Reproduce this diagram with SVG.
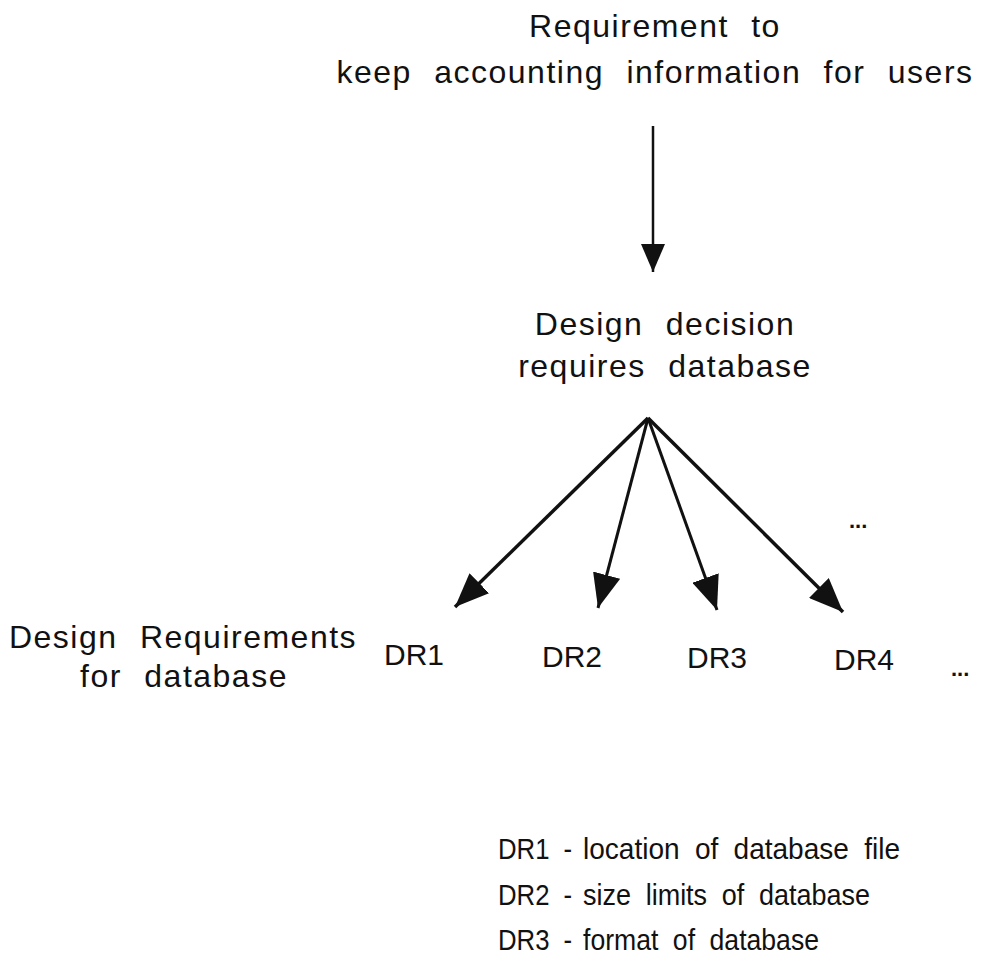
<svg xmlns="http://www.w3.org/2000/svg" width="983" height="962" viewBox="0 0 983 962">
  <style>
    .t { font-family: "Liberation Sans", Arial, sans-serif; font-size: 32px; fill: #111; letter-spacing: 1.5px; word-spacing: 12px; }
    .c { text-anchor: middle; }
    .dr { font-family: "Liberation Sans", Arial, sans-serif; font-size: 30px; fill: #111; }
    .lg { font-family: "Liberation Sans", Arial, sans-serif; font-size: 30px; fill: #111; word-spacing: 8px; }
    .dots { font-family: "Liberation Sans", Arial, sans-serif; font-size: 22px; font-weight: bold; fill: #111; }
    .edge { stroke: #111; fill: none; }
  </style>
  <defs>
    <marker id="head" markerUnits="userSpaceOnUse" markerWidth="36" markerHeight="28" viewBox="0 0 36 28" refX="34" refY="14" orient="auto">
      <path d="M0,0 L34,14 L0,28 Z" fill="#111"/>
    </marker>
    <marker id="headThin" markerUnits="userSpaceOnUse" markerWidth="30" markerHeight="24" viewBox="0 0 30 24" refX="28" refY="12" orient="auto">
      <path d="M0,0 L28,12 L0,24 Z" fill="#111"/>
    </marker>
  </defs>
  <rect width="983" height="962" fill="#fff"/>

  <g id="requirement">
    <text class="t c" x="655" y="37">Requirement to</text>
    <text class="t c" x="655" y="83">keep accounting information for users</text>
  </g>

  <g id="decision">
    <text class="t c" x="665" y="335">Design decision</text>
    <text class="t c" x="665" y="377">requires database</text>
  </g>

  <g id="design-requirements">
    <text class="t c" x="183" y="648">Design Requirements</text>
    <text class="t c" x="184" y="687">for database</text>
  </g>

  <g id="dr1"><text class="dr" x="384" y="665">DR1</text></g>
  <g id="dr2"><text class="dr" x="542" y="667">DR2</text></g>
  <g id="dr3"><text class="dr" x="687" y="668">DR3</text></g>
  <g id="dr4"><text class="dr" x="834" y="670">DR4</text></g>

  <g id="more">
    <text class="dots" x="849" y="528">...</text>
    <text class="dots" x="951" y="676">...</text>
  </g>

  <!-- key: label prefix and description set as two runs so the descriptions line up -->
  <g id="legend">
    <text class="lg" x="498" y="859" textLength="74" lengthAdjust="spacingAndGlyphs">DR1 -</text>
    <text class="lg" x="583" y="859" textLength="317" lengthAdjust="spacingAndGlyphs">location of database file</text>
    <text class="lg" x="498" y="905" textLength="74" lengthAdjust="spacingAndGlyphs">DR2 -</text>
    <text class="lg" x="583" y="905" textLength="287" lengthAdjust="spacingAndGlyphs">size limits of database</text>
    <text class="lg" x="498" y="950" textLength="74" lengthAdjust="spacingAndGlyphs">DR3 -</text>
    <text class="lg" x="583" y="950" textLength="236" lengthAdjust="spacingAndGlyphs">format of database</text>
  </g>

  <g id="connectors">
    <line class="edge" x1="653" y1="126" x2="653" y2="272" stroke-width="2.5" marker-end="url(#headThin)"/>
    <line class="edge" x1="648" y1="418" x2="455" y2="607" stroke-width="3.5" marker-end="url(#head)"/>
    <line class="edge" x1="648" y1="418" x2="598" y2="608" stroke-width="3" marker-end="url(#head)"/>
    <line class="edge" x1="648" y1="418" x2="717" y2="610" stroke-width="3" marker-end="url(#head)"/>
    <line class="edge" x1="648" y1="418" x2="843" y2="612" stroke-width="3.5" marker-end="url(#head)"/>
  </g>
</svg>
